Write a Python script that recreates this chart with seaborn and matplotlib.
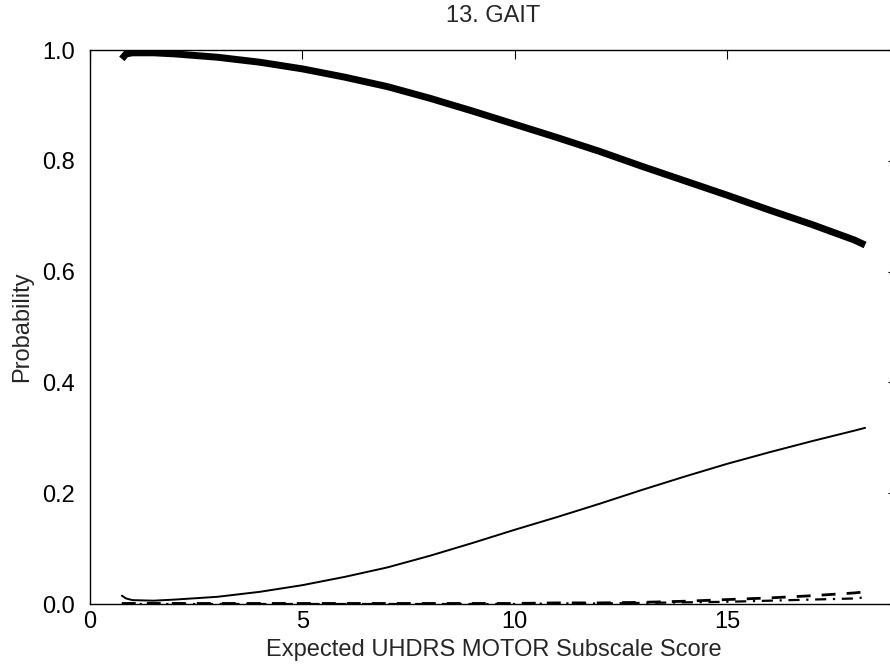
import matplotlib
matplotlib.use("Agg")
import matplotlib.pyplot as plt
import seaborn as sns
import pandas as pd

# Expected subscale score grid
score = [0.75, 0.85, 1.0, 1.5, 2.0, 3.0, 4.0, 5.0, 6.0, 7.0, 8.0, 9.0, 10.0,
         11.0, 12.0, 13.0, 14.0, 15.0, 16.0, 17.0, 18.0, 18.25]

# Category probabilities for item 13 (gait)
p_normal = [0.984, 0.993, 0.995, 0.995, 0.993, 0.987, 0.978, 0.966, 0.951, 0.934,
            0.913, 0.890, 0.866, 0.842, 0.817, 0.790, 0.764, 0.738, 0.711, 0.685,
            0.657, 0.648]
p_wide = [0.015, 0.010, 0.007, 0.006, 0.008, 0.013, 0.022, 0.034, 0.049, 0.066,
          0.087, 0.110, 0.134, 0.157, 0.181, 0.206, 0.230, 0.253, 0.274, 0.294,
          0.313, 0.318]
p_assist = [0.001, 0.001, 0.001, 0.001, 0.001, 0.001, 0.001, 0.001, 0.001, 0.001,
            0.001, 0.001, 0.001, 0.002, 0.002, 0.003, 0.005, 0.008, 0.011, 0.015,
            0.020, 0.022]
p_cannot = [0.000, 0.000, 0.000, 0.000, 0.000, 0.000, 0.000, 0.000, 0.000, 0.000,
            0.000, 0.000, 0.000, 0.001, 0.001, 0.002, 0.003, 0.004, 0.006, 0.008,
            0.010, 0.012]

x_ticks = [0, 5, 10, 15]
y_ticks = [0.0, 0.2, 0.4, 0.6, 0.8, 1.0]

df = pd.DataFrame({"score": score, "p0": p_normal, "p1": p_wide,
                   "p2": p_assist, "p3": p_cannot})

sns.set_style("white")
plt.rcParams["font.family"] = ["Liberation Sans", "DejaVu Sans"]

fig = plt.figure(figsize=(8.9, 6.68), dpi=100)
ax = fig.add_axes([0.1011, 0.0958, 0.9067, 0.8293])

sns.lineplot(data=df, x="score", y="p0", ax=ax, color="black", lw=5.0,
             solid_capstyle="butt")
sns.lineplot(data=df, x="score", y="p1", ax=ax, color="black", lw=1.4)
sns.lineplot(data=df, x="score", y="p2", ax=ax, color="black", lw=2.0,
             linestyle=(0, (5, 4)))
sns.lineplot(data=df, x="score", y="p3", ax=ax, color="black", lw=1.6,
             linestyle=(0, (5, 3, 1, 3)))

ax.set_xlim(0, 19)
ax.set_ylim(0, 1.0)
ax.set_xticks(x_ticks)
ax.set_xticklabels([str(t) for t in x_ticks])
ax.set_yticks(y_ticks)
ax.set_yticklabels([f"{t:.1f}" for t in y_ticks])

for s in ax.spines.values():
    s.set_visible(True)
    s.set_color("black")
    s.set_linewidth(1.0)

ax.tick_params(direction="in", length=6.5, width=0.8, top=True, right=True,
               labelsize=17, colors="black")
ax.tick_params(axis="y", pad=11)
ax.tick_params(axis="x", pad=5)

ax.set_xlabel("Expected UHDRS MOTOR Subscale Score", fontsize=17, labelpad=4)
ax.set_ylabel("Probability", fontsize=17, labelpad=6)
ax.set_title("13. GAIT", fontsize=17, pad=20)

fig.savefig("out.png", dpi=100)
